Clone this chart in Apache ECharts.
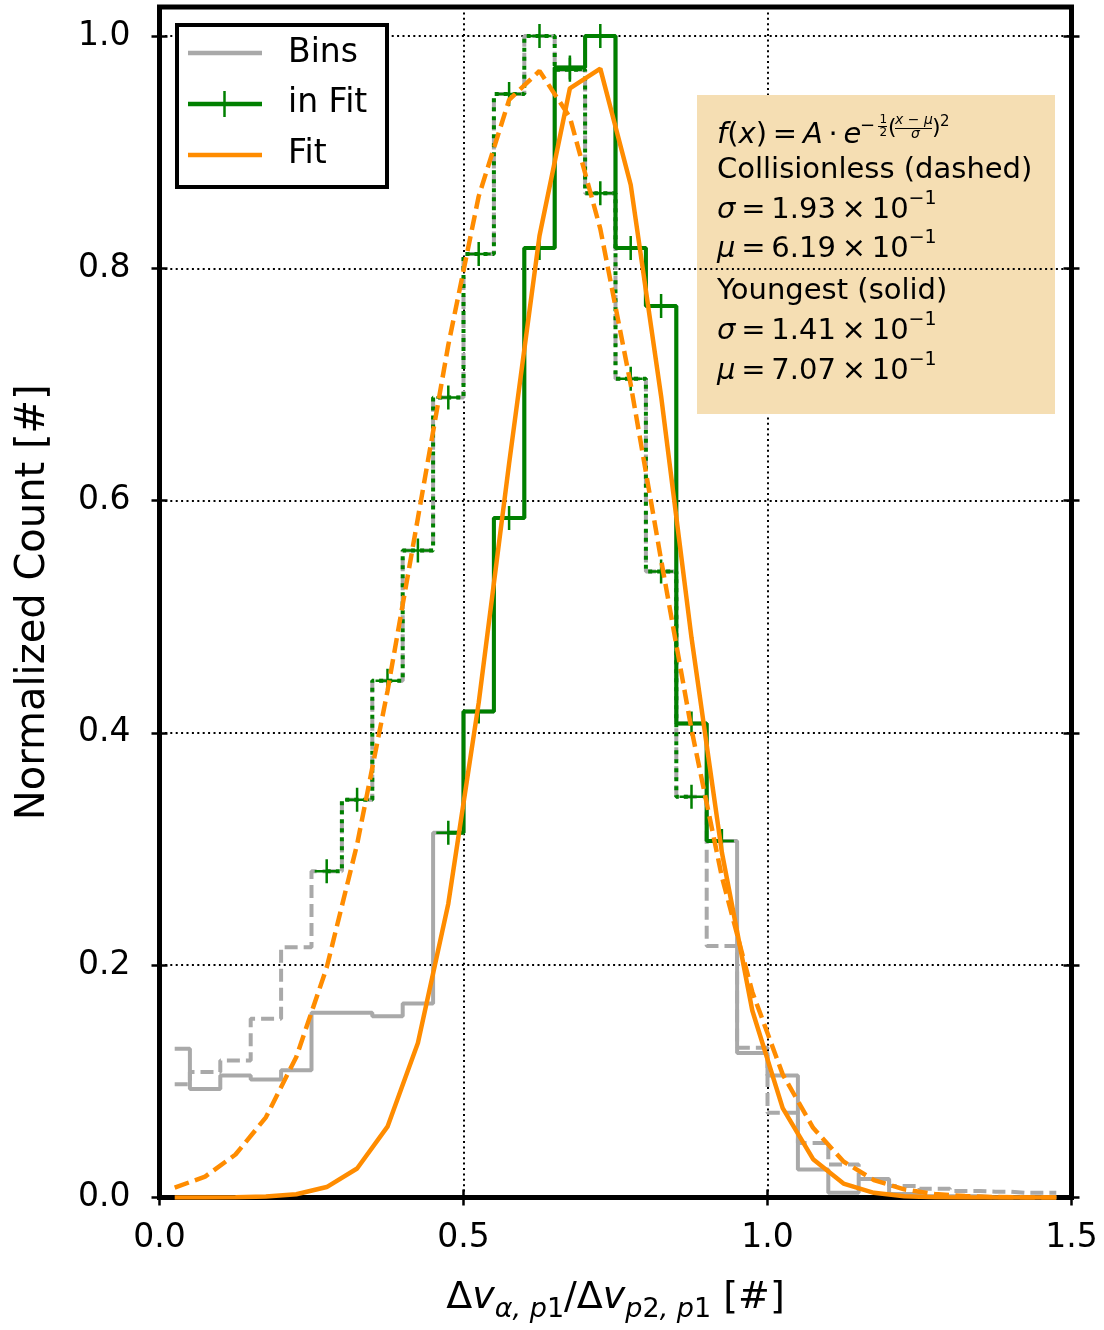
<!DOCTYPE html>
<html><head><meta charset="utf-8">
<script src="https://cdn.jsdelivr.net/npm/echarts@6/dist/echarts.min.js"></script>
<style>html,body{margin:0;padding:0;background:#fff}#c{width:1104px;height:1330px}</style>
</head><body><div id="c"></div>
<script>
// ---------------- data ----------------
const binCenters = [0.025,0.075,0.125,0.175,0.225,0.275,0.325,0.375,0.425,0.475,
  0.525,0.575,0.625,0.675,0.725,0.775,0.825,0.875,0.925,0.975,
  1.025,1.075,1.125,1.175,1.225,1.275,1.325,1.375,1.425,1.475];

// all bins, "Youngest" (grey solid)
const youngestAll = [0.128,0.0935,0.105,0.1015,0.1096,0.159,0.159,0.156,0.167,0.314,
  0.4185,0.585,0.8175,0.973,1.0,0.8175,0.7676,0.408,0.307,0.1245,
  0.105,0.024,0.004,0.016,0.003,0.001,0.001,0.0,0.0,0.0];

// all bins, "Collisionless" (grey dashed)
const collisionlessAll = [0.0975,0.108,0.118,0.154,0.2155,0.281,0.3425,0.445,0.557,0.6887,
  0.8124,0.950,1.0,0.971,0.8646,0.705,0.539,0.345,0.2165,0.129,
  0.073,0.047,0.0284,0.016,0.010,0.0075,0.0055,0.005,0.004,0.004];

// bins used in the fit, "Youngest" (green solid)
const youngestFitX = [0.475,0.525,0.575,0.625,0.675,0.725,0.775,0.825,0.875,0.925];
const youngestFitY = [0.314,0.4185,0.585,0.8175,0.973,1.0,0.8175,0.7676,0.408,0.307];

// bins used in the fit, "Collisionless" (green dotted)
const collisionlessFitX = [0.275,0.325,0.375,0.425,0.475,0.525,0.575,0.625,0.675,0.725,0.775,0.825,0.875];
const collisionlessFitY = [0.281,0.3425,0.445,0.557,0.6887,0.8124,0.950,1.0,0.971,0.8646,0.705,0.539,0.345];

// fitted curves sampled at bin centers (orange)
const collisionlessCurve = [0.0085,0.018,0.037,0.069,0.121,0.198,0.304,0.436,0.585,0.734,
  0.862,0.945,0.970,0.930,0.834,0.700,0.549,0.403,0.276,0.177,
  0.106,0.060,0.031,0.015,0.007,0.003,0.0012,0.0004,0.0001,0.0];
const youngestCurve = [0.0,0.0,0.0002,0.0008,0.0028,0.009,0.025,0.061,0.133,0.253,
  0.426,0.632,0.828,0.955,0.972,0.872,0.690,0.482,0.297,0.161,
  0.077,0.033,0.012,0.004,0.001,0.0003,0.0,0.0,0.0,0.0];

const xTicks = [0.0,0.5,1.0,1.5];
const yTicks = [0.0,0.2,0.4,0.6,0.8,1.0];
const legendLabels = ['Bins','in Fit','Fit'];
const boxLines = ['Collisionless (dashed)','Youngest (solid)'];
const collisionlessParams = ['1.93','6.19'];
const youngestParams = ['1.41','7.07'];

// ---------------- styling ----------------
const FONT = 'DejaVu Sans';
const GREY = '#a9a9a9', GREEN = '#008000', ORANGE = '#ff8c00';
const PLUS = 'path://M0,1 L2,1 M1,0 L1,2';

const pairs = (xs, ys) => xs.map((x, i) => [x, ys[i]]);
const tickStyle = {color:'#000', width:2.5};
const gridDots = {color:'#000', width:2, type:[2,3.4]};

function xAx(inside, main){
  return {
    type:'value', min:0, max:1.5, interval:0.5, position:'bottom', z:1,
    axisLine:{show:false},
    axisTick:{show:true, inside:inside, length:8, lineStyle:tickStyle, customValues:xTicks},
    axisLabel:{show:main, customValues:xTicks, formatter:v=>v.toFixed(1),
      fontSize:33, fontFamily:FONT, color:'#000', margin:24},
    splitLine:{show:main, lineStyle:gridDots},
    name: main ? '{d|Δ}{v|v}{s|α, p}{t|1}{d|/Δ}{v|v}{s|p}{t|2}{s|, p}{t|1}{d| [#]}' : '',
    nameLocation:'middle', nameGap:76,
    nameTextStyle:{fontSize:38, fontFamily:FONT, color:'#000',
      rich:{
        d:{fontSize:38, fontFamily:FONT, color:'#000', lineHeight:50},
        v:{fontSize:38, fontFamily:FONT, color:'#000', fontStyle:'italic', lineHeight:50},
        s:{fontSize:27, fontFamily:FONT, color:'#000', fontStyle:'italic', lineHeight:27, verticalAlign:'bottom'},
        t:{fontSize:27, fontFamily:FONT, color:'#000', lineHeight:27, verticalAlign:'bottom'}
      }}
  };
}
function yAx(pos, inside, main){
  return {
    type:'value', min:0, max:1.025, interval:0.2, position:pos, z:3,
    axisLine:{show:false},
    axisTick:{show:true, inside:inside, length:8, lineStyle:tickStyle, customValues:yTicks},
    axisLabel:{show:main, customValues:yTicks, formatter:v=>v.toFixed(1),
      fontSize:33, fontFamily:FONT, color:'#000', margin:29, padding:[4,0,0,0]},
    splitLine:{show:main, lineStyle:gridDots},
    name: main ? 'Normalized Count [#]' : '',
    nameLocation:'middle', nameGap:106,
    nameTextStyle:{fontSize:40, fontFamily:FONT, color:'#000'}
  };
}

function stepSeries(name, data, color, width, dash, z, markers){
  return {
    name, type:'line', step:'middle', data, z,
    xAxisIndex:0, yAxisIndex:0,
    color,
    lineStyle:{color, width, type:dash},
    showSymbol:!!markers, symbol:markers ? PLUS : 'none', symbolSize:[24,24],
    itemStyle:{color:'rgba(0,0,0,0)', borderColor:color, borderWidth:2.5},
    emphasis:{disabled:true}, silent:true
  };
}
function curveSeries(name, data, dash, z){
  return {
    name, type:'line', data, z, xAxisIndex:0, yAxisIndex:0,
    color:ORANGE, lineStyle:{color:ORANGE, width:4.5, type:dash},
    showSymbol:false, symbol:'none', emphasis:{disabled:true}, silent:true
  };
}

// ---------------- annotation box ----------------
const txt = (x, y, text, size, extra) => Object.assign({
  type:'text', x, y, z:3,
  style:Object.assign({text, fontSize:size, fontFamily:FONT, fill:'#000', verticalAlign:'middle', align:'left'}, extra||{})
});
const paramRich = {
  i:{fontStyle:'italic', fontSize:29, fontFamily:FONT, lineHeight:41},
  n:{fontSize:29, fontFamily:FONT, lineHeight:41},
  sup:{fontSize:19, fontFamily:FONT, lineHeight:24, verticalAlign:'top'}
};
const T = '\u2009';
function paramLine(y, sym, val){
  return txt(717, y, `{i|${sym}}{n|${T}=${T}${val}${T}×${T}10}{sup|−1}`, 29, {rich:paramRich});
}
const D = 3.5; // vertical nudge of the box text
const boxElements = [
  {type:'rect', z:2, shape:{x:697, y:95, width:358, height:319}, style:{fill:'#F5DEB3'}},
  txt(717, 132 + D, `{i|f}{n|(}{i|x}{n|)${T}=${T}}{i|A}{n|${T}·${T}}{i|e}`, 29, {rich:paramRich}),
  txt(860, 123 + D, '−', 18),
  txt(879.5, 116.5 + D, '1', 12),
  {type:'line', z:3, shape:{x1:878, y1:123 + D, x2:887, y2:123 + D}, style:{stroke:'#000', lineWidth:1}},
  txt(879.5, 129 + D, '2', 12),
  txt(888, 124.5 + D, '(', 22),
  txt(895, 117 + D, '{i|x}{n| − }{i|μ}', 14, {rich:{i:{fontStyle:'italic', fontSize:14, fontFamily:FONT}, n:{fontSize:14, fontFamily:FONT}}}),
  {type:'line', z:3, shape:{x1:895, y1:125 + D, x2:932, y2:125 + D}, style:{stroke:'#000', lineWidth:1}},
  txt(911, 131 + D, 'σ', 14, {fontStyle:'italic'}),
  txt(932, 124.5 + D, ')', 22),
  txt(940, 118.5 + D, '2', 15),
  txt(717, 166.5 + D, boxLines[0], 29),
  paramLine(206.5 + D, 'σ', collisionlessParams[0]),
  paramLine(246 + D, 'μ', collisionlessParams[1]),
  txt(717, 288 + D, boxLines[1], 29),
  paramLine(328 + D, 'σ', youngestParams[0]),
  paramLine(368 + D, 'μ', youngestParams[1])
];

// ---------------- legend (drawn by hand) ----------------
const legendElements = [
  {type:'rect', z:20, shape:{x:177, y:25, width:210, height:162}, style:{fill:'#fff', stroke:'#000', lineWidth:4}},
  {type:'line', z:21, shape:{x1:188, y1:53, x2:262, y2:53}, style:{stroke:GREY, lineWidth:4.5}},
  {type:'line', z:21, shape:{x1:188, y1:104, x2:262, y2:104}, style:{stroke:GREEN, lineWidth:4.5}},
  {type:'line', z:21, shape:{x1:224.5, y1:91, x2:224.5, y2:117}, style:{stroke:GREEN, lineWidth:2.5}},
  {type:'line', z:21, shape:{x1:188, y1:155, x2:262, y2:155}, style:{stroke:ORANGE, lineWidth:4.5}},
  Object.assign(txt(288, 53, legendLabels[0], 33), {z:21}),
  Object.assign(txt(288, 103, legendLabels[1], 33), {z:21}),
  Object.assign(txt(288, 154, legendLabels[2], 33), {z:21})
];

const chart = echarts.init(document.getElementById('c'), null, {renderer:'canvas'});
chart.setOption({
  animation:false,
  backgroundColor:'#fff',
  grid:{left:159.5, right:32.5, top:7, bottom:132.5, show:true, borderColor:'#000', borderWidth:5, backgroundColor:'rgba(0,0,0,0)', z:0},
  xAxis:[xAx(false, true), xAx(true, false)],
  yAxis:[yAx('left', false, true), yAx('left', true, false), yAx('right', false, false), yAx('right', true, false)],
  series:[
    stepSeries('Collisionless bins', pairs(binCenters, collisionlessAll), GREY, 4, [13,6], 4, false),
    stepSeries('Bins', pairs(binCenters, youngestAll), GREY, 4, 'solid', 5, false),
    stepSeries('Collisionless in Fit', pairs(collisionlessFitX, collisionlessFitY), GREEN, 4, [4,5], 6, true),
    stepSeries('in Fit', pairs(youngestFitX, youngestFitY), GREEN, 4, 'solid', 7, true),
    curveSeries('Collisionless Fit', pairs(binCenters, collisionlessCurve), [15,6.5], 8),
    curveSeries('Fit', pairs(binCenters, youngestCurve), 'solid', 9)
  ],
  graphic:{elements: boxElements.concat(legendElements)}
});
</script>
</body></html>
